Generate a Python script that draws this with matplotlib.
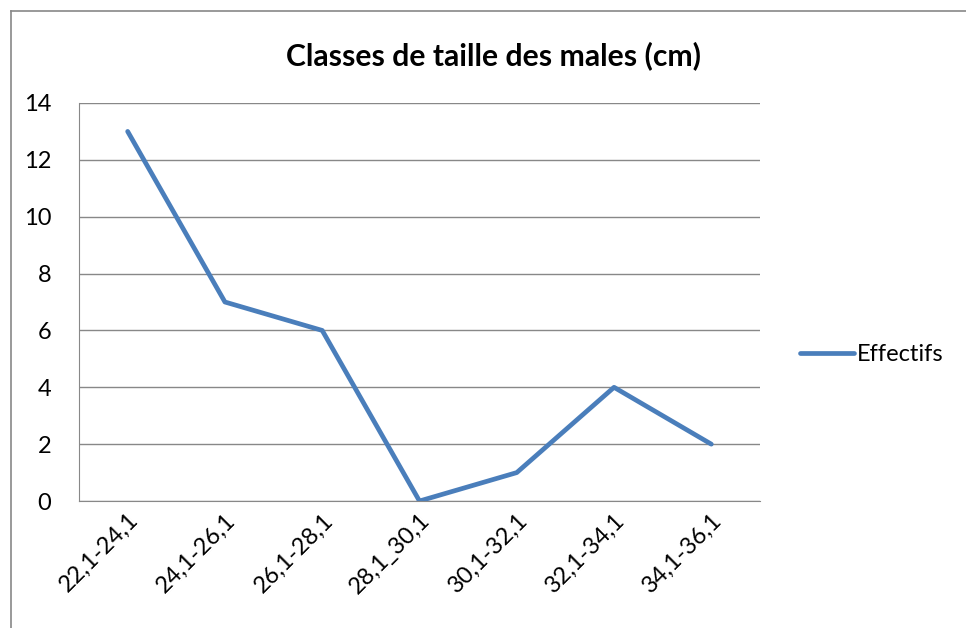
import matplotlib
matplotlib.use("Agg")
import matplotlib.pyplot as plt
from matplotlib.lines import Line2D

# Data
classes = ['22,1-24,1', '24,1-26,1', '26,1-28,1', '28,1_30,1',
           '30,1-32,1', '32,1-34,1', '34,1-36,1']
effectifs = [13, 7, 6, 0, 1, 4, 2]
y_ticks = [0, 2, 4, 6, 8, 10, 12, 14]

plt.rcParams['font.family'] = ['Lato', 'DejaVu Sans']

fig = plt.figure(figsize=(9.66, 6.28), dpi=100)
ax = fig.add_axes([0.0818, 0.2022, 0.7049, 0.6338])

x = range(len(classes))
ax.plot(x, effectifs, color='#4A7EBB', linewidth=3.4, label='Effectifs',
        solid_capstyle='round', solid_joinstyle='round')

ax.set_xlim(-0.5, len(classes) - 0.5)
ax.set_ylim(0, 14)
ax.set_yticks(y_ticks)
ax.set_xticks(list(x))
ax.set_xticklabels(classes, rotation=45, ha='right', rotation_mode='anchor',
                   fontsize=17)
ax.tick_params(axis='y', labelsize=17, length=0, pad=20)
ax.tick_params(axis='x', length=0, pad=6)

ax.grid(axis='y', color='#888888', linewidth=1)
ax.set_axisbelow(True)
for side in ['top', 'right']:
    ax.spines[side].set_visible(False)
ax.spines['left'].set_color('#888888')
ax.spines['bottom'].set_color('#888888')

fig.text(0.511, 0.912, 'Classes de taille des males (cm)', ha='center',
         va='center', fontsize=21.7, fontweight='bold')

handle = Line2D([], [], color='#4A7EBB', linewidth=3.4, solid_capstyle='round')
fig.legend([handle], ['Effectifs'], loc='center left',
           bbox_to_anchor=(0.828, 0.435), frameon=False, fontsize=17,
           handlelength=2.3, handletextpad=0.1, borderpad=0, borderaxespad=0)

# outer chart border (right/bottom edges fall outside the picture)
fig.add_artist(Line2D([0.0115, 0.0115], [0, 0.983], color='#888888',
                      linewidth=1.2, transform=fig.transFigure))
fig.add_artist(Line2D([0.0115, 1.0], [0.983, 0.983], color='#888888',
                      linewidth=1.2, transform=fig.transFigure))

fig.savefig('out.png', dpi=100)
